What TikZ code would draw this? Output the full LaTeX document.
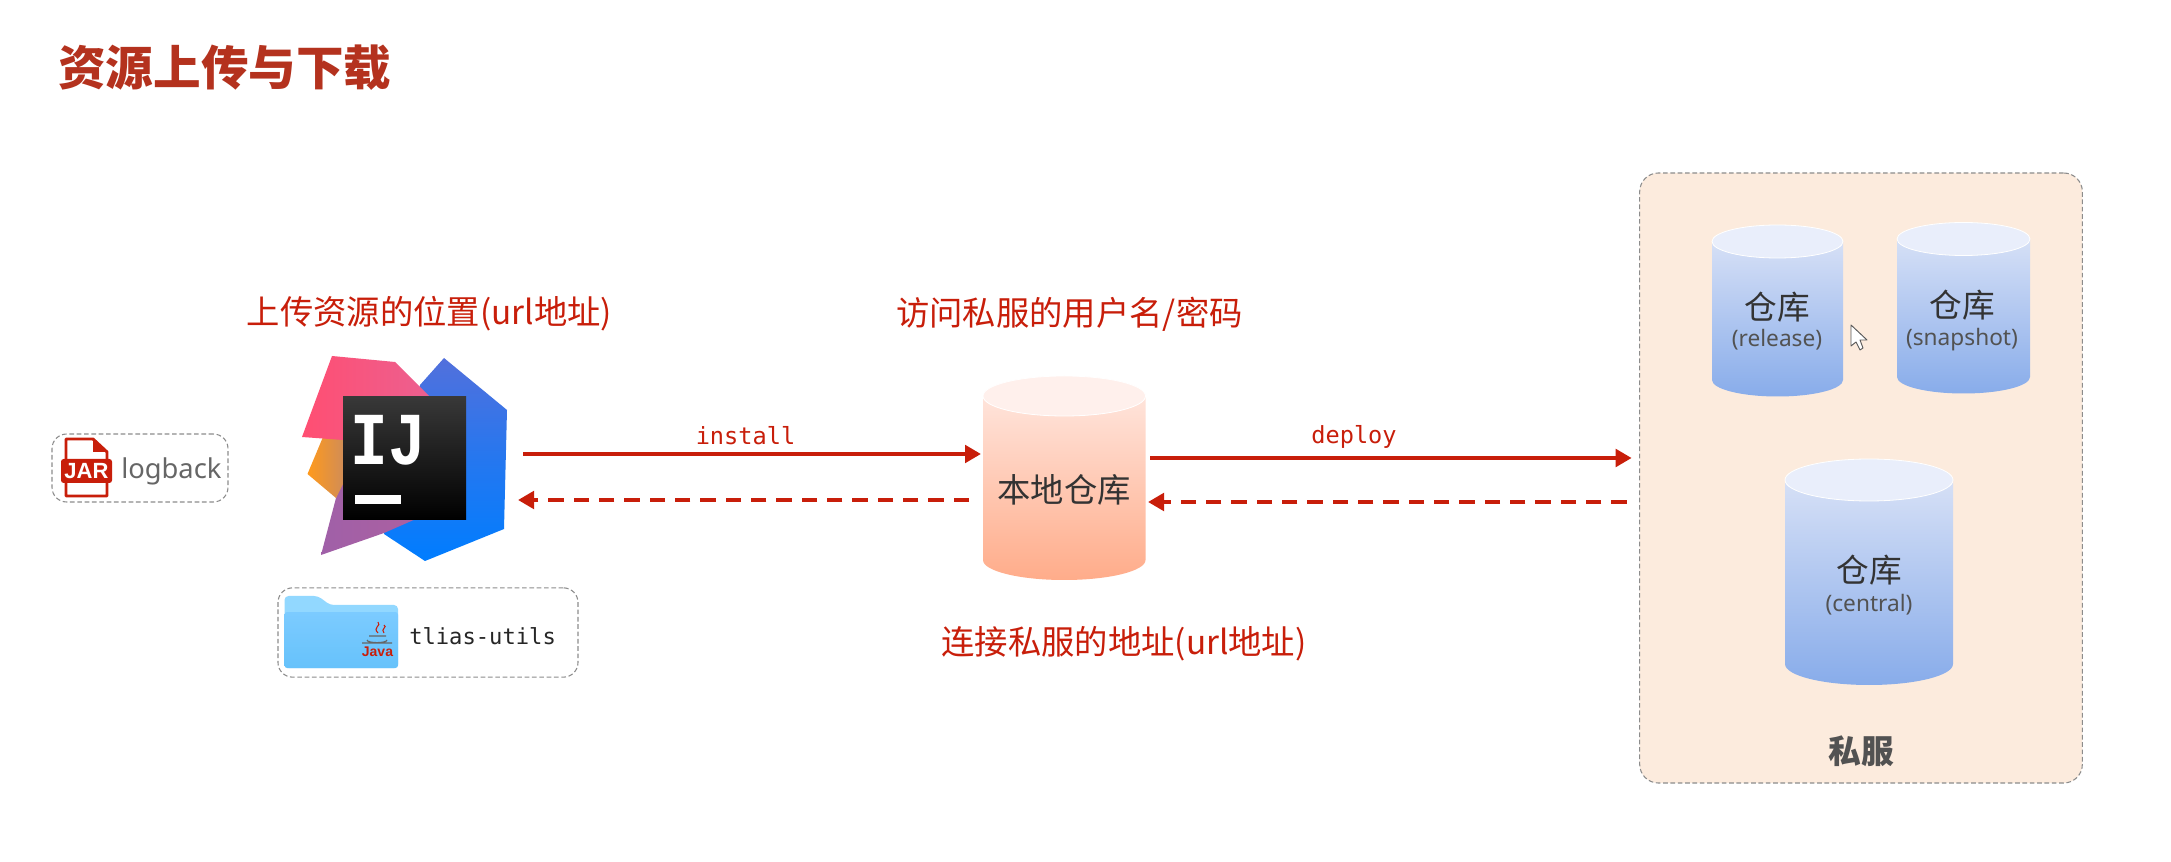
\documentclass[tikz,border=0pt]{standalone}
\usepackage{fontspec}
\setmainfont{Noto Sans CJK SC}
\newfontfamily\monof{DejaVu Sans Mono}
\newfontfamily\latinf{Noto Sans}
\newfontfamily\arialf{Liberation Sans}
\newfontfamily\ijf{Liberation Mono}
\usetikzlibrary{arrows.meta}
\definecolor{arrred}{HTML}{C81E0A}
\definecolor{titlered}{HTML}{B4321E}
\definecolor{boxgray}{HTML}{8C8C8C}
\definecolor{panelfill}{HTML}{FCEBDD}
\definecolor{txtdark}{HTML}{333333}
\definecolor{bluetop}{HTML}{D6E0F6}
\definecolor{bluebot}{HTML}{88ACEA}
\definecolor{bluecap}{HTML}{E9EEFB}
\definecolor{peachtop}{HTML}{FFE4DB}
\definecolor{peachbot}{HTML}{FFAC8A}
\definecolor{peachcap}{HTML}{FFF0EC}
\definecolor{folderback}{HTML}{92D8FF}
\definecolor{foldertop}{HTML}{7CCBFF}
\definecolor{folderbot}{HTML}{66C2FB}
\tikzset{
  solidarrow/.style={draw=arrred,line width=3pt,-{Triangle[length=12pt,width=13pt]}},
  dasharrow/.style={solidarrow,dash pattern=on 11.5pt off 7.5pt},
  dashbox/.style={draw=boxgray,line width=0.8pt,dash pattern=on 3.5pt off 2pt,rounded corners=11pt},
  titletext/.style={inner sep=0pt,text=titlered,font=\fontsize{35.7}{40}\selectfont\bfseries},
  redlabel/.style={inner sep=0pt,text=arrred,font=\fontsize{25}{30}\selectfont},
  cmdlabel/.style={inner sep=0pt,text=arrred,font=\monof\fontsize{17.7}{20}\selectfont},
  cylname/.style={inner sep=0pt,text=txtdark,font=\fontsize{24.5}{28}\selectfont},
  cylsub/.style={inner sep=0pt,text=txtdark!85,font=\latinf\fontsize{17}{20}\selectfont},
}
% name, x1, x2, ytop, ybottom, ry, body top, body bottom, cap
\newcommand{\cylinderdraw}[9]{%
  \pgfmathsetmacro{\crx}{(#3-#2)/2}%
  \pgfmathsetmacro{\cmx}{(#3+#2)/2}%
  \pgfmathsetmacro{\cmy}{(#4+#5)/2}%
  \pgfmathsetmacro{\cw}{(#3-#2)*0.75}%
  \pgfmathsetmacro{\ch}{(#5-#4+2*#6)*0.75}%
  \shade[top color=#7,bottom color=#8]
    (#2,#4) -- (#2,#5) arc[start angle=180,end angle=360,x radius=\crx*0.75pt,y radius=#6*0.75pt]
    -- (#3,#4) arc[start angle=0,end angle=-180,x radius=\crx*0.75pt,y radius=#6*0.75pt] -- cycle;
  \draw[white,line width=0.6pt,fill=#9] (\cmx,#4) ellipse[x radius=\crx*0.75pt,y radius=#6*0.75pt];
  \node[inner sep=0pt,outer sep=0pt,minimum width=\cw pt,minimum height=\ch pt] (#1) at (\cmx,\cmy) {};
}
\begin{document}
\begin{tikzpicture}[x=0.75pt,y=-0.75pt]
\useasboundingbox[fill=white] (0,0) rectangle (2171,862);

\node[titletext,anchor=west] (title) at (58,67.5) {资源上传与下载};

% logback box
\node[inner sep=0pt,outer sep=0pt,minimum width=132pt,minimum height=51pt,dashbox] (logbackbox) at (140,468) {};
\draw[arrred,line width=2.2pt,line join=round]
  (66,459) -- (66,439) -- (93,439) -- (107,452) -- (107,459)
  (66,483) -- (66,496) -- (107,496) -- (107,483);
\fill[arrred] (93,439) -- (107,452) -- (93,452) -- cycle;
\fill[arrred,rounded corners=2pt] (61,459) rectangle (112,483);
\node[inner sep=0pt,text=white,font=\arialf\bfseries\fontsize{16.5}{18}\selectfont] (jar) at (86.5,471) {JAR};
\node[inner sep=0pt,anchor=west,text=black!60,font=\latinf\fontsize{20.5}{24}\selectfont] (logback) at (121,471) {logback};

% IntelliJ logo
\definecolor{logoblueA}{HTML}{5270DC}\definecolor{logoblueB}{HTML}{007DFF}
\definecolor{logoredA}{HTML}{FF4E72}\definecolor{logoredB}{HTML}{EC6090}
\definecolor{logooraA}{HTML}{FF9A1C}\definecolor{logooraB}{HTML}{C98A60}
\definecolor{logopurA}{HTML}{A060A8}\definecolor{logopurB}{HTML}{AC60A0}
\shade[top color=logoblueA,bottom color=logoblueB,middle color=logoblueA!45!logoblueB]
  (444,358) -- (507,410) -- (504,529) -- (425,561) -- (384,534) -- (400,470) -- (420,385) -- cycle;
\shade[left color=logopurA,right color=logopurB]
  (336,498) -- (321,555) -- (384,533) -- (425,515) -- (343,480) -- cycle;
\shade[left color=logooraA,right color=logooraB]
  (323,437) -- (307.5,474) -- (336,498) -- (350,470) -- (345,437) -- cycle;
\shade[left color=logoredA,right color=logoredB]
  (332,356) -- (395,362) -- (430,397) -- (343,440) -- (302,437) -- cycle;
\node[inner sep=0pt,outer sep=0pt,minimum width=154.5pt,minimum height=153.75pt] (logo) at (405,458.5) {};
\shade[top color=black!78,bottom color=black] (343,397) rectangle (466,520);
\node[inner sep=0pt,text=white,xscale=0.84,transform shape,font=\ijf\bfseries\fontsize{56}{60}\selectfont] (ij) at (388.5,440) {IJ};
\fill[white] (354.5,495) rectangle (400.5,503.7);

% tlias box
\node[inner sep=0pt,outer sep=0pt,minimum width=225pt,minimum height=67pt,dashbox] (tliasbox) at (428,632.5) {};
\fill[rounded corners=3pt,color=folderback] (284.5,668) -- (284.5,596) -- (318,596) -- (330,605) -- (398,605) -- (398,668) -- cycle;
\shade[rounded corners=2pt,top color=foldertop,bottom color=folderbot] (284.5,668) rectangle (398,612);
\draw[arrred,line width=0.8pt] (378,633) .. controls (372,627) and (382,626) .. (378,622) (384,633) .. controls (380,629) and (388,627) .. (384,625);
\draw[black!60,line width=0.9pt] (369,636) -- (386,636) (367,640) arc[start angle=180,end angle=360,x radius=7.5pt,y radius=2pt] (362,643) -- (392,643);
\node[inner sep=0pt,text=arrred,font=\arialf\bfseries\fontsize{10.5}{12}\selectfont] (javatext) at (377.5,652) {Java};
\node[inner sep=0pt,anchor=west,text=black!85,font=\monof\fontsize{16.6}{20}\selectfont] (tlias) at (409,636) {tlias-utils};

% local repository
\cylinderdraw{local}{983}{1145.5}{396}{560}{20}{peachtop}{peachbot}{peachcap}
\node[inner sep=0pt,text=txtdark,font=\fontsize{25}{30}\selectfont] (localtext) at (1064,490) {本地仓库};

% private server panel
\node[inner sep=0pt,outer sep=0pt,minimum width=332pt,minimum height=457.5pt,fill=panelfill,draw=boxgray,line width=0.8pt,dash pattern=on 3.5pt off 2pt,rounded corners=14pt] (panel) at (1861,478) {};
\cylinderdraw{rel}{1712}{1843}{241.5}{380}{16.5}{bluetop}{bluebot}{bluecap}
\cylinderdraw{snap}{1897}{2030}{239}{377}{16.5}{bluetop}{bluebot}{bluecap}
\cylinderdraw{cen}{1785}{1953}{480}{664}{21}{bluetop}{bluebot}{bluecap}
\node[cylname] (reltext) at (1777,307) {仓库};
\node[cylsub] (relsub) at (1777,340) {(release)};
\node[cylname] (snaptext) at (1962,305) {仓库};
\node[cylsub] (snapsub) at (1962,339.5) {(snapshot)};
\node[cylname] (centext) at (1869,570) {仓库};
\node[cylsub] (censub) at (1869,605) {(central)};
\node[inner sep=0pt,text=black!68,font=\fontsize{24.5}{28}\selectfont\bfseries] (siserver) at (1861,751) {私服};
% mouse cursor
\draw[black!65,fill=white,line width=0.7pt,line join=round]
  (1851,325) -- (1851,346) -- (1856,342) -- (1860,350) -- (1863,348) -- (1860,340) -- (1867,340) -- cycle;

% labels
\node[redlabel] (urlupload) at (429.5,314) {上传资源的位置(url地址)};
\node[redlabel] (userpass) at (1069.5,314) {访问私服的用户名/密码};
\node[redlabel] (urlconn) at (1124,644) {连接私服的地址(url地址)};
\node[cmdlabel] (install) at (745.5,436) {install};
\node[cmdlabel] (deploy) at (1354,437) {deploy};

% connectors
\draw[solidarrow] ([shift={(15,-4.5)}]logo.east) -- ([shift={(-2,-24)}]local.west);
\draw[dasharrow] ([shift={(-14,22)}]local.west) -- ([shift={(10,41.5)}]logo.east);
\draw[solidarrow] ([shift={(4.5,-20)}]local.east) -- ([shift={(-8,-20)}]panel.west);
\draw[dasharrow] ([shift={(-13,24)}]panel.west) -- ([shift={(2.5,24)}]local.east);
\end{tikzpicture}
\end{document}
